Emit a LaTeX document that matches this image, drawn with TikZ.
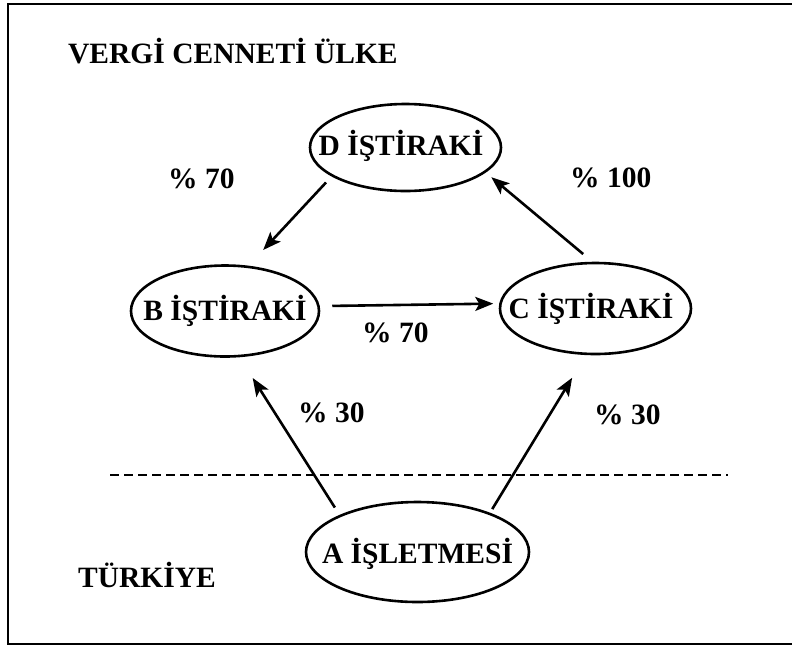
\documentclass[tikz,border=0pt]{standalone}
\usepackage{fontspec}
\setmainfont{Liberation Serif}
\usetikzlibrary{shapes.geometric,arrows.meta}
\begin{document}
\begin{tikzpicture}[x=1pt,y=-1pt,
  oval/.style={draw, line width=2.6pt, ellipse, inner sep=0pt, outer sep=0pt},
  txt/.style={inner sep=0pt, font=\fontsize{29.5}{34}\selectfont\bfseries},
  arr/.style={line width=2.6pt, -{Stealth[length=18pt,width=14pt,inset=4pt]}},
  frame/.style={line width=2.6pt},
  border line/.style={line width=2.8pt, dash pattern=on 9pt off 5pt}
]
\useasboundingbox (0,0) rectangle (792,646);
\draw[frame] (800,4) -- (8,4) -- (8,644) -- (800,644);

\node[oval, minimum width=191pt, minimum height=87pt] (d) at (405.5,147.5) {};
\node[oval, minimum width=188pt, minimum height=91pt] (b) at (225,311) {};
\node[oval, minimum width=191pt, minimum height=91pt] (c) at (595.5,308.5) {};
\node[oval, minimum width=223pt, minimum height=100pt] (a) at (417.5,552) {};

\node[txt, anchor=base] (dt) at (401,155) {D İŞTİRAKİ};
\node[txt, anchor=base] (bt) at (225,320) {B İŞTİRAKİ};
\node[txt, anchor=base] (ct) at (591,318) {C İŞTİRAKİ};
\node[txt, anchor=base] (at) at (417.5,563) {A İŞLETMESİ};
\node[txt, anchor=base west] (title) at (68,63) {VERGİ CENNETİ ÜLKE};
\node[txt, anchor=base west] (tr) at (78,587) {TÜRKİYE};
\node[txt, anchor=base west] (p1) at (168,188) {\% 70};
\node[txt, anchor=base west] (p2) at (570,187) {\% 100};
\node[txt, anchor=base west] (p3) at (362,342) {\% 70};
\node[txt, anchor=base west] (p4) at (298,422) {\% 30};
\node[txt, anchor=base west] (p5) at (594,424) {\% 30};

\draw[border line] (110,475) -- (728,475);

\draw[arr, shorten <=9.5pt, shorten >=23pt] (d.201) -- (b.63.8);
\draw[arr, shorten <=14pt, shorten >=8.5pt] (c.92.3) -- (d.343.5);
\draw[arr, shorten <=13.8pt, shorten >=7.3pt] (b.3.6) -- (c.177.9);
\draw[arr, shorten <=10pt, shorten >=26pt] (a.155.35) -- (b.287.15);
\draw[arr, shorten <=5.5pt, shorten >=28pt] (a.28.8) -- (c.259.6);
\end{tikzpicture}
\end{document}
